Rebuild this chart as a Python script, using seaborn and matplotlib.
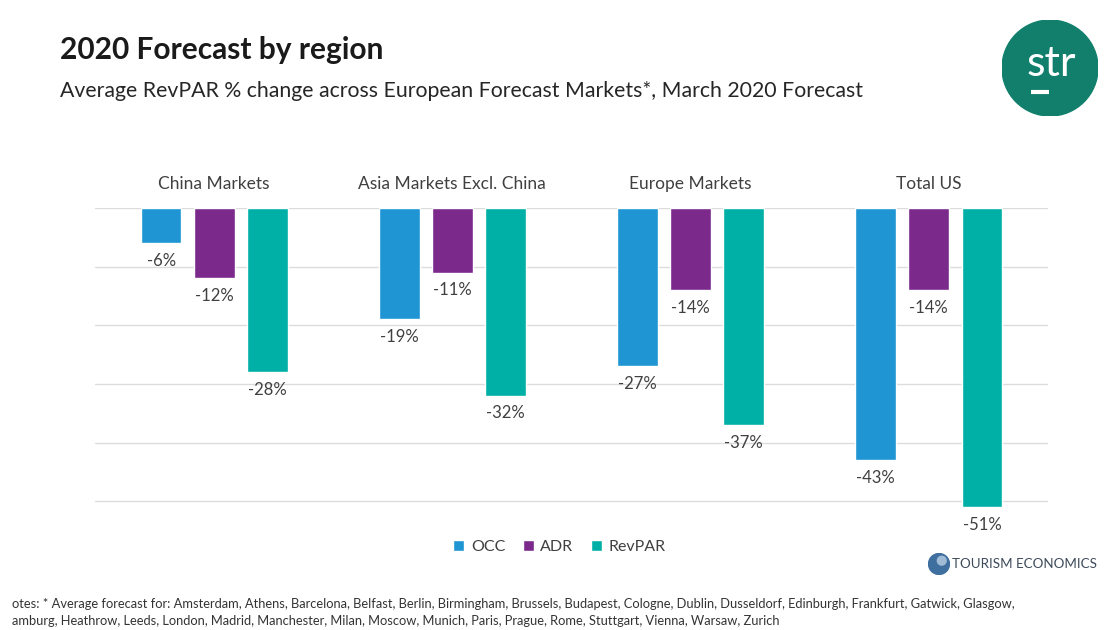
import pandas as pd
import matplotlib.pyplot as plt
import seaborn as sns
from matplotlib.patches import Circle

# data
regions = ['China Markets', 'Asia Markets Excl. China', 'Europe Markets', 'Total US']
metrics = ['OCC', 'ADR', 'RevPAR']
occ = [-6, -19, -27, -43]
adr = [-12, -11, -14, -14]
revpar = [-28, -32, -37, -51]

title = '2020 Forecast by region'
subtitle = 'Average RevPAR % change across European Forecast Markets*, March 2020 Forecast'
notes_1 = ('otes: * Average forecast for: Amsterdam, Athens, Barcelona, Belfast, Berlin, Birmingham, Brussels, '
           'Budapest, Cologne, Dublin, Dusseldorf, Edinburgh, Frankfurt, Gatwick, Glasgow,')
notes_2 = ('amburg, Heathrow, Leeds, London, Madrid, Manchester, Milan, Moscow, Munich, Paris, Prague, Rome, '
           'Stuttgart, Vienna, Warsaw, Zurich')

df = pd.DataFrame({
    'region': regions * 3,
    'metric': ['OCC'] * 4 + ['ADR'] * 4 + ['RevPAR'] * 4,
    'value': occ + adr + revpar,
})

colors = ['#1f95d3', '#7b2a8c', '#00b0a6']

sns.set_style('white')
plt.rcParams['font.family'] = ['Lato', 'DejaVu Sans']

fig = plt.figure(figsize=(11.08, 6.3), dpi=100)
fig.patch.set_facecolor('white')
ax = fig.add_axes([95 / 1108, 1 - 519 / 630, 953 / 1108, 311 / 630])

sns.barplot(data=df, x='region', y='value', hue='metric', hue_order=metrics,
            palette=colors, width=0.668, gap=0.23, ax=ax, saturation=1, legend=True)

ax.set_ylim(-53, 0)
ax.set_xlim(-0.5, 3.5)
ax.set_yticks([0, -10, -20, -30, -40, -50])
ax.yaxis.grid(True, color='#dcdcdc', linewidth=1)
ax.set_axisbelow(True)
ax.tick_params(left=False, bottom=False, labelleft=False, labelbottom=False)
for s in ax.spines.values():
    s.set_visible(False)
ax.set_xlabel('')
ax.set_ylabel('')

# value labels under each bar
for cont in ax.containers:
    ax.bar_label(cont, fmt='%.0f%%', padding=7, fontsize=12, color='#404040')

# category names above the bars
for i, r in enumerate(regions):
    ax.text(i, 1.05, r, transform=ax.get_xaxis_transform(), ha='center', va='bottom',
            fontsize=12.5, color='#404040')

# legend
handles, labels = ax.get_legend_handles_labels()
ax.legend(handles, labels, loc='center', bbox_to_anchor=(0.505, 1 - 547 / 630),
          bbox_transform=fig.transFigure, ncol=3, frameon=False, fontsize=11.5,
          handlelength=0.7, handleheight=0.7, handletextpad=0.4, columnspacing=1.1,
          labelcolor='#404040')

# titles
fig.text(60 / 1108, 1 - 50 / 630, title, fontsize=21.5, fontweight='bold', color='#1a1a1a',
         va='center', ha='left')
fig.text(60 / 1108, 1 - 91 / 630, subtitle, fontsize=15.3, color='#262626',
         va='center', ha='left')

# str logo
lax = fig.add_axes([1002 / 1108, 1 - 116 / 630, 96 / 1108, 96 / 630])
lax.set_xlim(-1, 1)
lax.set_ylim(-1, 1)
lax.set_aspect('equal')
lax.axis('off')
lax.add_patch(Circle((0, 0), 1, color='#117f6c'))
lax.text(0.02, 0.08, 'str', color='white', fontsize=31, ha='center', va='center')
lax.plot([-0.4, -0.02], [-0.5, -0.5], color='white', lw=3, solid_capstyle='butt')

# tourism economics mark
gax = fig.add_axes([928 / 1108, 1 - 575 / 630, 22 / 1108, 22 / 630])
gax.set_xlim(-1, 1)
gax.set_ylim(-1, 1)
gax.set_aspect('equal')
gax.axis('off')
gax.add_patch(Circle((0, 0), 0.95, color='#3f6f9e'))
gax.add_patch(Circle((0.25, 0.3), 0.4, color='#9fbbd6'))
fig.text(952 / 1108, 1 - 564 / 630, 'TOURISM ECONOMICS', fontsize=9.6, color='#3d4a5a',
         va='center', ha='left')

# notes
fig.text(12 / 1108, 1 - 604 / 630, notes_1, fontsize=9.3, color='#333333', va='center', ha='left')
fig.text(12 / 1108, 1 - 621 / 630, notes_2, fontsize=9.3, color='#333333', va='center', ha='left')

fig.savefig('out.png', dpi=100, facecolor='white')
